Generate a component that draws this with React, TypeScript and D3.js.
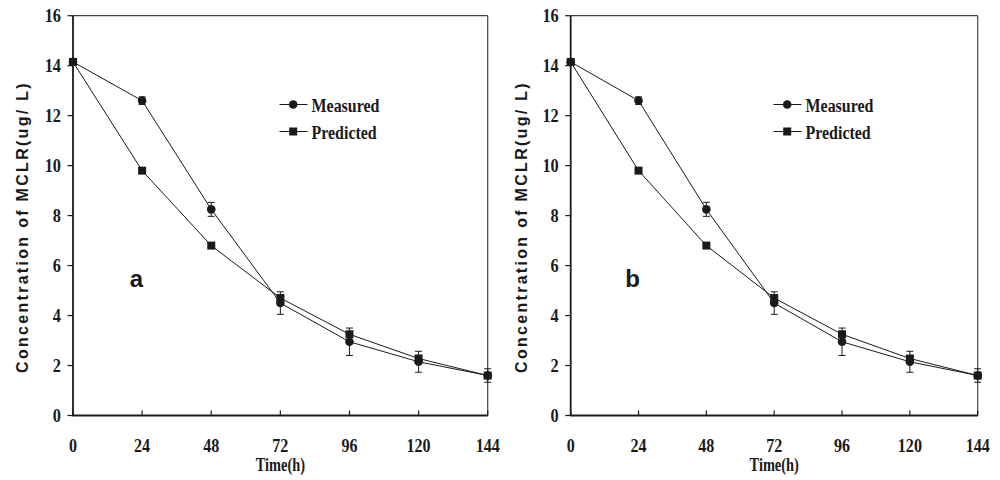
import React from "react";
import * as d3 from "d3";

const times = [0, 24, 48, 72, 96, 120, 144];
const measured = [14.15, 12.6, 8.25, 4.5, 2.95, 2.15, 1.6];
const measuredErr = [0, 0.15, 0.28, 0.45, 0.55, 0.42, 0.27];
const predicted = [14.15, 9.8, 6.8, 4.7, 3.25, 2.28, 1.6];
const yTicks = [0, 2, 4, 6, 8, 10, 12, 14, 16];
const xTicks = [0, 24, 48, 72, 96, 120, 144];
const seriesNames = ["Measured", "Predicted"];
const panelLabels = ["a", "b"];

const SERIF = "'Liberation Serif', 'Times New Roman', serif";
const SANS = "'Liberation Sans', Arial, sans-serif";
const INK = "#1a1a1a";

type PanelCfg = {
  label: string;
  x0: number;
  x1: number;
  ylabelX: number;
  legendX: number;
  letterX: number;
};

const panels: PanelCfg[] = [
  { label: panelLabels[0], x0: 73, x1: 487.7, ylabelX: 22, legendX: 279.5, letterX: 136.5 },
  { label: panelLabels[1], x0: 570.7, x1: 977.7, ylabelX: 521.5, legendX: 773.5, letterX: 632.5 },
];

const yTop = 15.7;
const yBot = 415.5;

function CText(props: {
  x: number;
  y: number;
  anchor?: string;
  size: number;
  sx: number;
  children: React.ReactNode;
}) {
  const { x, y, anchor = "start", size, sx, children } = props;
  return (
    <text
      transform={`translate(${x},${y}) scale(${sx},1)`}
      textAnchor={anchor}
      fontFamily={SERIF}
      fontWeight="bold"
      fontSize={size}
      fill={INK}
    >
      {children}
    </text>
  );
}

function Panel({ cfg }: { cfg: PanelCfg }) {
  const x = d3.scaleLinear().domain([0, 144]).range([cfg.x0, cfg.x1]);
  const y = d3.scaleLinear().domain([0, 16]).range([yBot, yTop]);
  const line = d3
    .line<number>()
    .x((_, i) => x(times[i]))
    .y((d) => y(d));
  const yMid = 227;
  return (
    <g>
      {/* frame top & right */}
      <line x1={cfg.x0} x2={cfg.x1} y1={yTop} y2={yTop} stroke="#444" strokeWidth={1.2} />
      <line x1={cfg.x1} x2={cfg.x1} y1={yTop} y2={yBot} stroke="#444" strokeWidth={1.2} />
      {/* axes */}
      <line x1={cfg.x0} x2={cfg.x0} y1={yTop} y2={yBot + 0.8} stroke={INK} strokeWidth={1.8} />
      <line x1={cfg.x0} x2={cfg.x1} y1={yBot} y2={yBot} stroke={INK} strokeWidth={1.8} />
      {yTicks.map((t) => (
        <g key={"y" + t}>
          <line x1={cfg.x0 - 5.5} x2={cfg.x0} y1={y(t)} y2={y(t)} stroke={INK} strokeWidth={1.2} />
          <CText x={cfg.x0 - 12} y={y(t) + 6.5} anchor="end" size={19} sx={0.86}>
            {t}
          </CText>
        </g>
      ))}
      {xTicks.map((t) => (
        <g key={"x" + t}>
          <line x1={x(t)} x2={x(t)} y1={yBot} y2={yBot - 5} stroke={INK} strokeWidth={1.2} />
          <CText x={x(t)} y={452} anchor="middle" size={18.5} sx={0.87}>
            {t}
          </CText>
        </g>
      ))}
      <CText x={(cfg.x0 + cfg.x1) / 2} y={471} anchor="middle" size={18} sx={0.8}>
        Time(h)
      </CText>
      <text
        transform={`translate(${cfg.ylabelX + 5.5},${yMid}) rotate(-90)`}
        textAnchor="middle"
        fontFamily={SANS}
        fontWeight="bold"
        fontSize={16}
        letterSpacing={2.3}
        fill={INK}
      >
        Concentration of MCLR(ug/ L)
      </text>
      <text
        x={cfg.letterX}
        y={287}
        textAnchor="middle"
        fontFamily={SANS}
        fontWeight="bold"
        fontSize={24}
        fill={INK}
      >
        {cfg.label}
      </text>
      {/* lines */}
      <path d={line(measured) || ""} fill="none" stroke={INK} strokeWidth={1} />
      <path d={line(predicted) || ""} fill="none" stroke={INK} strokeWidth={1} />
      {/* error bars */}
      {measured.map((v, i) =>
        measuredErr[i] > 0 ? (
          <g key={"e" + i} stroke={INK} strokeWidth={1}>
            <line x1={x(times[i])} x2={x(times[i])} y1={y(v + measuredErr[i])} y2={y(v - measuredErr[i])} />
            <line x1={x(times[i]) - 3.5} x2={x(times[i]) + 3.5} y1={y(v + measuredErr[i])} y2={y(v + measuredErr[i])} />
            <line x1={x(times[i]) - 3.5} x2={x(times[i]) + 3.5} y1={y(v - measuredErr[i])} y2={y(v - measuredErr[i])} />
          </g>
        ) : null
      )}
      {measured.map((v, i) => (
        <circle key={"m" + i} cx={x(times[i])} cy={y(v)} r={4.3} fill={INK} />
      ))}
      {predicted.map((v, i) => (
        <rect key={"p" + i} x={x(times[i]) - 4} y={y(v) - 4} width={8} height={8} fill={INK} />
      ))}
      {/* legend */}
      {seriesNames.map((name, i) => {
        const ly = 104.5 + i * 27;
        const cx = cfg.legendX + 13.7;
        return (
          <g key={name}>
            <line x1={cfg.legendX} x2={cfg.legendX + 28} y1={ly} y2={ly} stroke={INK} strokeWidth={1} />
            {i === 0 ? (
              <circle cx={cx} cy={ly} r={4.3} fill={INK} />
            ) : (
              <rect x={cx - 4} y={ly - 4} width={8} height={8} fill={INK} />
            )}
            <CText x={cfg.legendX + 32} y={ly + 7} size={19} sx={0.84}>
              {name}
            </CText>
          </g>
        );
      })}
    </g>
  );
}

export default function App() {
  return (
    <svg
      width={1000}
      height={480}
      style={{ position: "absolute", left: 0, top: 0, background: "#fff" }}
    >
      <rect width={1000} height={480} fill="#fff" />
      {panels.map((p) => (
        <Panel key={p.label} cfg={p} />
      ))}
    </svg>
  );
}
